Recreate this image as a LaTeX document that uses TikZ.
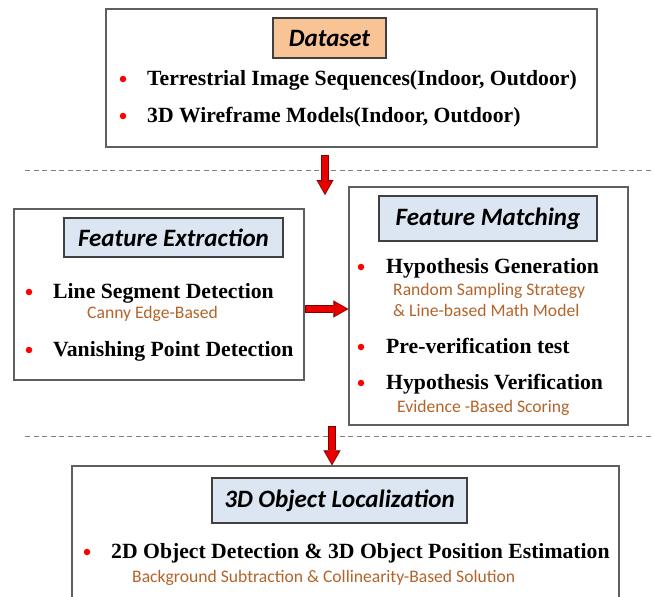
\documentclass[tikz,border=0pt]{standalone}
\usepackage{fontspec}
\usepackage{tikz}
\usetikzlibrary{arrows.meta}
\newfontfamily\calibrifont{Carlito}
\newfontfamily\timesfont{Liberation Serif}
\definecolor{panelgray}{RGB}{95,95,95}
\definecolor{titlepeach}{RGB}{248,196,150}
\definecolor{titleblue}{RGB}{220,230,242}
\definecolor{notebrown}{RGB}{180,100,42}
\definecolor{arrowred}{RGB}{235,0,0}
\tikzset{
  panel/.style={
    draw=panelgray, line width=1.3pt,
    fill=white, inner sep=0pt
  },
  heading/.style={
    draw=black!75, line width=1.1pt, inner sep=0pt,
    font=\calibrifont\bfseries\itshape\fontsize{25}{30}\selectfont
  },
  item/.style={anchor=base west, inner sep=0pt,
    font=\timesfont\bfseries\fontsize{21.7}{26}\selectfont},
  note/.style={anchor=base west, inner sep=0pt, text=notebrown,
    font=\calibrifont\fontsize{17.6}{20}\selectfont},
  bulletdot/.style={circle, fill=red, inner sep=0pt, minimum size=6.5pt},
  cutline/.style={gray, dash pattern=on 5pt off 3.5pt, line width=1pt},
  flowout/.style={draw=red!50!black, line width=8pt,
    -{Triangle[length=15pt,width=17pt,line width=0.1pt]}},
  flowin/.style={draw=arrowred, line width=6pt,
    -{Triangle[length=12pt,width=13.5pt,line width=0.1pt]},
    shorten >=1.6pt, shorten <=0.9pt}
}

\begin{document}
\begin{tikzpicture}[x=1pt, y=-1pt]
  \clip (0,0) rectangle (654,597);

  % panels
  \node[panel, minimum width=491pt, minimum height=138pt] (data)    at (351.5,78)  {};
  \node[panel, minimum width=290pt, minimum height=171pt] (extract) at (159,294.5) {};
  \node[panel, minimum width=279pt, minimum height=238pt] (match)   at (488.5,306) {};
  \node[panel, minimum width=547pt, minimum height=194pt] (loc)     at (345.5,563) {};

  % separators
  \draw[cutline] (25,170) -- (654,170);
  \draw[cutline] (25,436) -- (654,436);

  % Dataset
  \node[heading, fill=titlepeach, minimum width=113pt, minimum height=40pt] (datatitle) at (329.5,38) {Dataset};
  \node[bulletdot] (b1) at (123,79) {};
  \node[item] (seq) at (147,85) {Terrestrial Image Sequences(Indoor, Outdoor)};
  \node[bulletdot] (b2) at (123,116) {};
  \node[item] (wire) at (147,122) {3D Wireframe Models(Indoor, Outdoor)};

  % Feature Extraction
  \node[heading, fill=titleblue, minimum width=219pt, minimum height=39pt] (extracttitle) at (173.5,237.5) {Feature Extraction};
  \node[bulletdot] (b3) at (29,292) {};
  \node[item] (lsd) at (53,298) {Line Segment Detection};
  \node[note] (canny) at (87,318) {Canny Edge-Based};
  \node[bulletdot] (b4) at (29,350) {};
  \node[item] (vpd) at (53,356) {Vanishing Point Detection};

  % Feature Matching
  \node[heading, fill=titleblue, minimum width=218pt, minimum height=45pt] (matchtitle) at (488,218.5) {Feature Matching};
  \node[bulletdot] (b5) at (361,267) {};
  \node[item] (hypgen) at (386,273) {Hypothesis Generation};
  \node[note] (rss) at (393,295) {Random Sampling Strategy};
  \node[note] (lmm) at (393,316) {\& Line-based Math Model};
  \node[bulletdot] (b6) at (361,347) {};
  \node[item] (prever) at (386,353) {Pre-verification test};
  \node[bulletdot] (b7) at (361,383) {};
  \node[item] (hypver) at (386,389) {Hypothesis Verification};
  \node[note] (ebs) at (397,412) {Evidence -Based Scoring};

  % 3D Object Localization
  \node[heading, fill=titleblue, minimum width=255pt, minimum height=45pt] (loctitle) at (339.5,500.5) {3D Object Localization};
  \node[bulletdot] (b8) at (87,552) {};
  \node[item] (detect) at (111,558) {2D Object Detection \& 3D Object Position Estimation};
  \node[note] (bgsub) at (132,582) {Background Subtraction \& Collinearity-Based Solution};

  % arrows
  \coordinate (fromdata) at (325,155);
  \coordinate (tomid) at (325,195);
  \coordinate (drop) at (332,0);
  \coordinate (link) at (0,309);
  \foreach \s in {flowout,flowin} {
    \draw[\s] (fromdata) -- (tomid);
    \draw[\s] (extract.east |- link) -- (match.west |- link);
    \draw[\s] (match.south -| drop) -- (drop |- loc.north);
  }
\end{tikzpicture}
\end{document}
